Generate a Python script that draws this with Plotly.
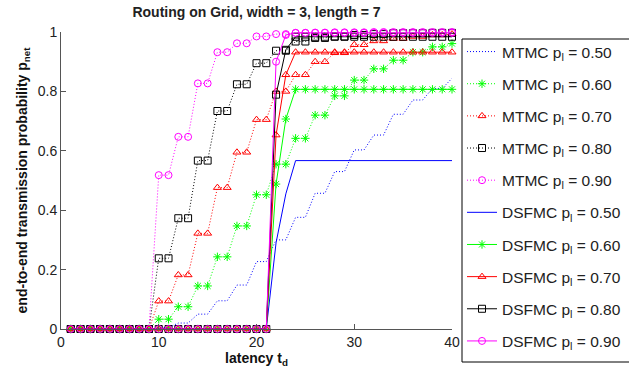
import plotly.graph_objects as go

latency = list(range(1, 41))
pl_labels = ["0.50", "0.60", "0.70", "0.80", "0.90"]

mtmc_050 = [0, 0, 0, 0, 0, 0, 0, 0, 0, 0.005, 0.005, 0.02, 0.02, 0.05, 0.05, 0.095, 0.095,
            0.148, 0.148, 0.227, 0.227, 0.30, 0.30, 0.376, 0.376, 0.457, 0.457, 0.53, 0.53,
            0.603, 0.603, 0.653, 0.653, 0.723, 0.723, 0.771, 0.771, 0.81, 0.81, 0.844]
mtmc_060 = [0, 0, 0, 0, 0, 0, 0, 0, 0, 0.033, 0.033, 0.075, 0.075, 0.145, 0.145, 0.243, 0.243,
            0.347, 0.347, 0.452, 0.452, 0.555, 0.555, 0.642, 0.642, 0.72, 0.72, 0.785, 0.785,
            0.838, 0.838, 0.876, 0.876, 0.905, 0.905, 0.932, 0.932, 0.95, 0.95, 0.961]
mtmc_070 = [0, 0, 0, 0, 0, 0, 0, 0, 0, 0.094, 0.094, 0.182, 0.182, 0.322, 0.322, 0.476, 0.476,
            0.595, 0.595, 0.705, 0.705, 0.80, 0.80, 0.856, 0.856, 0.90, 0.90, 0.93, 0.93,
            0.957, 0.957, 0.97, 0.97, 0.978, 0.978, 0.985, 0.985, 0.99, 0.99, 0.993]
mtmc_080 = [0, 0, 0, 0, 0, 0, 0, 0, 0, 0.238, 0.238, 0.373, 0.373, 0.567, 0.567, 0.734, 0.734,
            0.824, 0.824, 0.895, 0.895, 0.937, 0.937, 0.968, 0.968, 0.98, 0.98, 0.985, 0.985,
            0.99, 0.99, 0.993, 0.993, 0.996, 0.996, 0.996, 0.996, 0.997, 0.997, 0.997]
mtmc_090 = [0, 0, 0, 0, 0, 0, 0, 0, 0, 0.518, 0.518, 0.647, 0.647, 0.827, 0.827, 0.932, 0.932,
            0.962, 0.962, 0.985, 0.985, 0.993, 0.993, 0.997, 0.997, 0.998, 0.998, 0.999, 0.999,
            0.999, 0.999, 1.0, 1.0, 1.0, 1.0, 1.0, 1.0, 1.0, 1.0, 1.0]

dsfmc_050 = [0] * 21 + [0.29, 0.455] + [0.567] * 17
dsfmc_060 = [0] * 21 + [0.488, 0.707] + [0.807] * 17
dsfmc_070 = [0] * 21 + [0.653, 0.856] + [0.932] * 17
dsfmc_080 = [0] * 21 + [0.789, 0.94] + [0.984] * 17
dsfmc_090 = [0] * 21 + [0.90, 0.99] + [0.997] * 17

mtmc = [mtmc_050, mtmc_060, mtmc_070, mtmc_080, mtmc_090]
dsfmc = [dsfmc_050, dsfmc_060, dsfmc_070, dsfmc_080, dsfmc_090]

colors = ["#0000ff", "#00ff00", "#ff0000", "#000000", "#ff00ff"]
symbols = [None, "asterisk-open", "triangle-up-open", "square-open", "circle-open"]
msizes = [0, 7, 7, 7, 7]

fig = go.Figure()

def add(name, ys, color, sym, msz, dash, grp):
    mode = "lines" if sym is None else "lines+markers"
    kw = dict(mode=mode, line=dict(color=color, width=1, dash=dash))
    if sym is not None:
        kw["marker"] = dict(symbol=sym, size=msz, color=color,
                            line=dict(color=color, width=1))
    fig.add_trace(go.Scatter(x=latency, y=ys, name=name, legendgroup=grp,
                             cliponaxis=False, **kw))

for i in range(5):
    add(f"MTMC p<sub>l</sub> = {pl_labels[i]}", mtmc[i], colors[i], symbols[i],
        msizes[i], "1px,2px", f"m{i}")
for i in range(5):
    add(f"DSFMC p<sub>l</sub> = {pl_labels[i]}", dsfmc[i], colors[i], symbols[i],
        msizes[i], "solid", f"d{i}")

font_family = "Liberation Sans, Arial, sans-serif"
axis_col = "#555555"

fig.update_layout(
    width=629, height=381,
    margin=dict(l=61, r=177, t=32, b=52, autoexpand=False),
    paper_bgcolor="white", plot_bgcolor="white",
    font=dict(family=font_family, size=14, color="#222222"),
    title=dict(text="<b>Routing on Grid, width = 3, length = 7</b>",
               x=(61 + 452) / 2 / 629, xanchor="center", y=1 - 12 / 381, yanchor="middle",
               font=dict(size=14, color="#222222")),
    showlegend=True,
    legend=dict(xref="container", yref="container",
                x=462 / 629, xanchor="left", y=1 - 35 / 381, yanchor="top",
                bgcolor="rgba(0,0,0,0)", borderwidth=0, maxheight=1000,
                font=dict(size=15.5, color="#222222"), tracegroupgap=9,
                itemwidth=30),
    shapes=[dict(type="rect", xref="paper", yref="paper",
                 x0=(462 - 61) / 391, x1=(640 - 61) / 391,
                 y0=(329 - 362) / 297, y1=(329 - 39) / 297,
                 line=dict(color="#000000", width=1), fillcolor="rgba(0,0,0,0)",
                 layer="above")],
)

fig.update_xaxes(range=[0, 40], tickvals=[0, 10, 20, 30, 40], showgrid=False,
                 zeroline=False, showline=True, linecolor=axis_col, linewidth=1,
                 ticks="inside", ticklen=5, tickcolor=axis_col, automargin=False,
                 tickfont=dict(size=14, color="#222222"),
                 title=dict(text="<b>latency t<sub>d</sub></b>", standoff=4,
                            font=dict(size=14, color="#111111")))
fig.update_yaxes(range=[0, 1], tickvals=[0, 0.2, 0.4, 0.6, 0.8, 1],
                 ticktext=["0", "0.2", "0.4", "0.6", "0.8", "1"], showgrid=False,
                 zeroline=False, showline=True, linecolor=axis_col, linewidth=1,
                 ticks="inside", ticklen=5, tickcolor=axis_col, automargin=False,
                 tickfont=dict(size=14, color="#222222"),
                 title=dict(text="<b>end-to-end transmission probability p<sub>net</sub></b>",
                            standoff=6, font=dict(size=14, color="#111111")))

fig.write_html("out.html", config={"displayModeBar": False},
               post_script="document.body.style.margin='0';document.body.style.padding='0';")
